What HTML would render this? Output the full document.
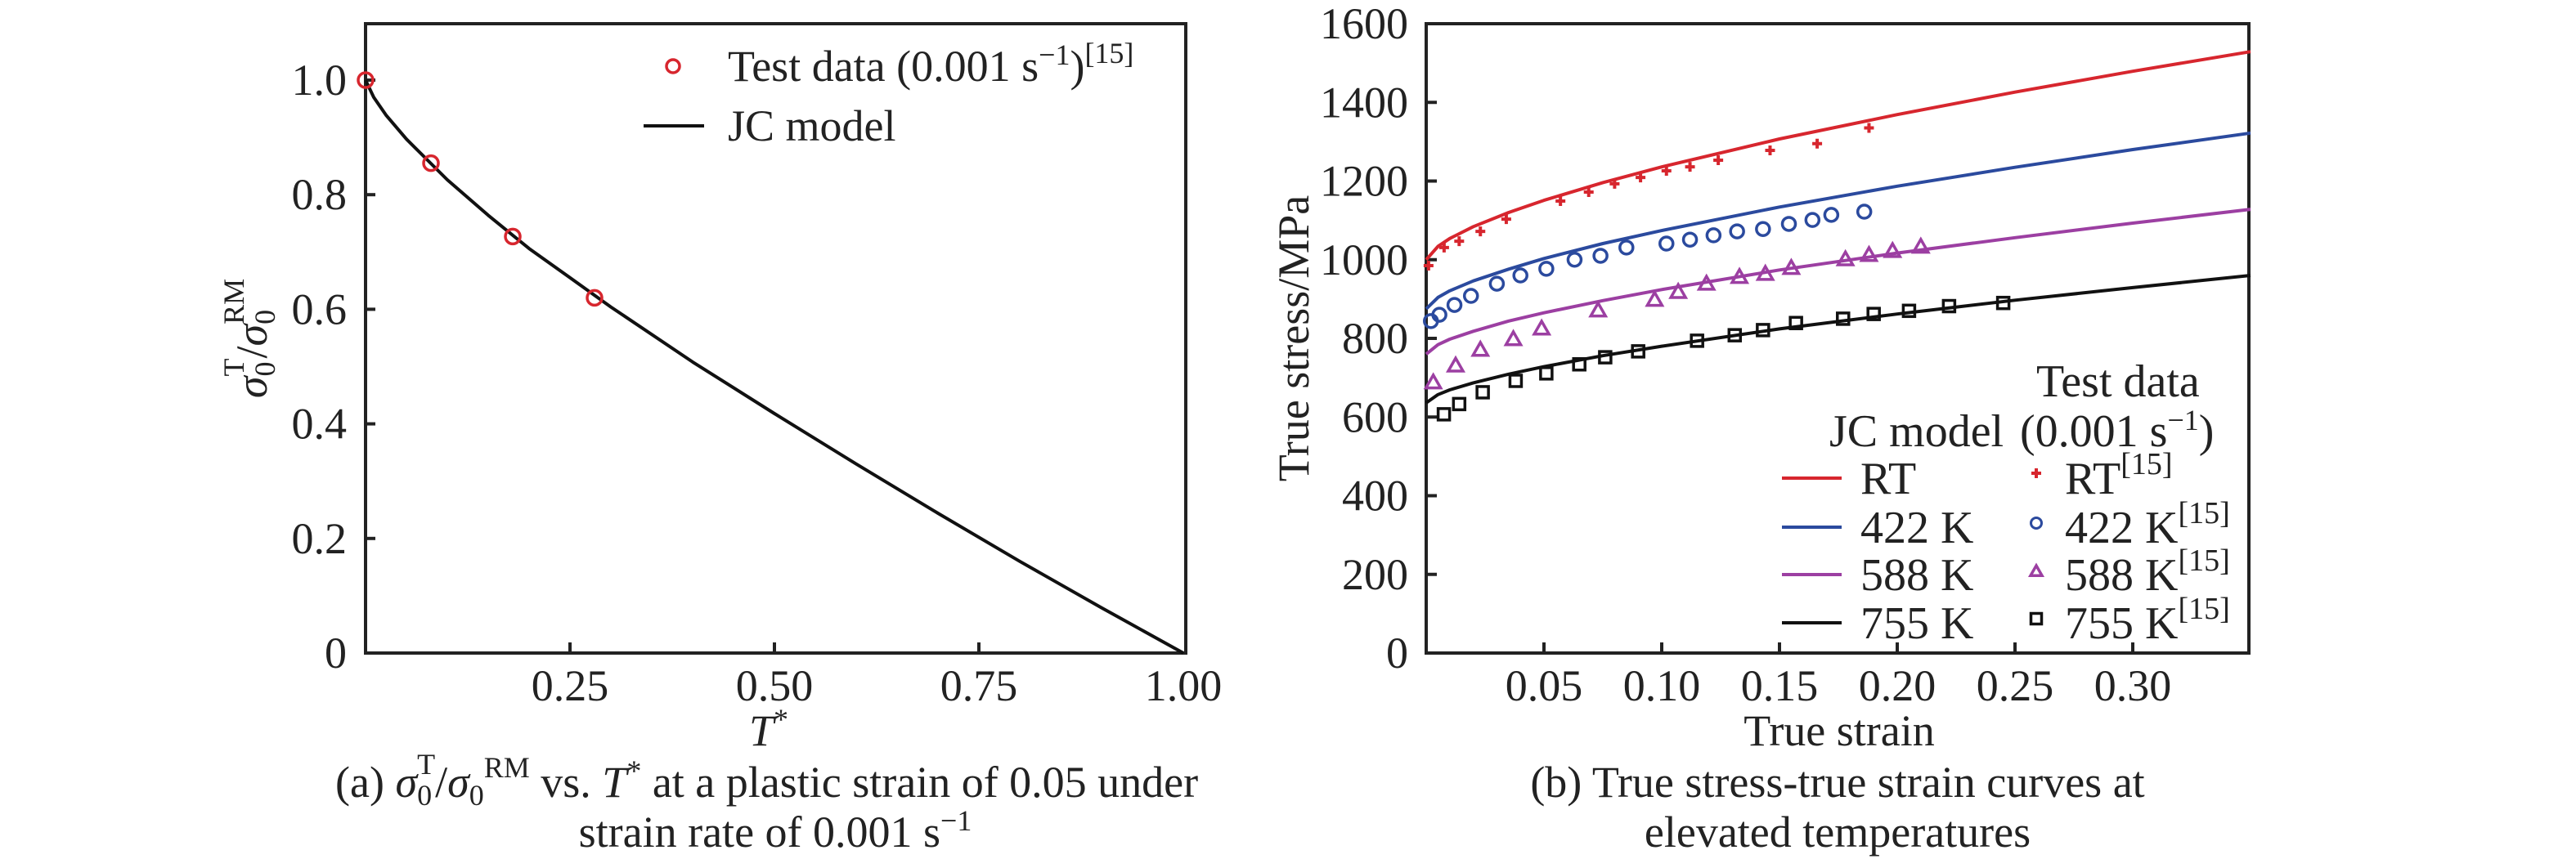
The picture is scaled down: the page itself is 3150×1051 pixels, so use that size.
<!DOCTYPE html>
<html><head><meta charset="utf-8"><style>
html,body{margin:0;padding:0;background:#fff;}
svg{display:block;font-family:"Liberation Serif","DejaVu Serif",serif;}
</style></head>
<body>
<svg id="fig" width="3150" height="1051" viewBox="0 0 3150 1051" xmlns="http://www.w3.org/2000/svg">
<g id="left"></g>
<g id="right"></g>
</svg>
<script>
// ---- Left chart data ----
const leftXTicks = [0.25, 0.50, 0.75, 1.00];
const leftXTickLabels = ["0.25", "0.50", "0.75", "1.00"];
const leftYTicks = [0, 0.2, 0.4, 0.6, 0.8, 1.0];
const leftYTickLabels = ["0", "0.2", "0.4", "0.6", "0.8", "1.0"];
const testT = [0, 0.08, 0.18, 0.28];
const testRatio = [1.0, 0.855, 0.727, 0.62];
const jcT = [0, 0.01, 0.025, 0.05, 0.1, 0.15, 0.2, 0.25, 0.3, 0.4, 0.5, 0.6, 0.7, 0.8, 0.9, 1.0];
const jcRatio = [1.0, 0.970, 0.939, 0.897, 0.826, 0.764, 0.706, 0.655, 0.604, 0.508, 0.418, 0.330, 0.244, 0.160, 0.079, 0.0];

// ---- Right chart data ----
const rightXTicks = [0.05, 0.10, 0.15, 0.20, 0.25, 0.30];
const rightXTickLabels = ["0.05", "0.10", "0.15", "0.20", "0.25", "0.30"];
const rightYTicks = [0, 200, 400, 600, 800, 1000, 1200, 1400, 1600];
const rightYTickLabels = ["0", "200", "400", "600", "800", "1000", "1200", "1400", "1600"];
const modelStrain = [0, 0.005, 0.01, 0.02, 0.035, 0.05, 0.075, 0.1, 0.15, 0.2, 0.25, 0.3, 0.35];
const modelRT = [1000, 1034, 1054, 1084, 1120, 1151, 1196, 1236, 1307, 1369, 1426, 1479, 1529];
const model422 = [875, 904, 921, 946, 976, 1003, 1041, 1074, 1134, 1187, 1235, 1280, 1322];
const model588 = [760, 784, 798, 818, 844, 865, 896, 924, 974, 1017, 1056, 1093, 1128];
const model755 = [636, 657, 669, 687, 709, 728, 756, 780, 824, 862, 897, 929, 960];
const rtStrain = [0.001, 0.0076, 0.014, 0.023, 0.034, 0.057, 0.069, 0.080, 0.091, 0.102, 0.112, 0.124, 0.146, 0.166, 0.188];
const rtStress = [985, 1031, 1047, 1072, 1103, 1149, 1172, 1193, 1209, 1226, 1236, 1253, 1278, 1295, 1335];
const k422Strain = [0.002, 0.0056, 0.012, 0.019, 0.030, 0.040, 0.051, 0.063, 0.074, 0.085, 0.102, 0.112, 0.122, 0.132, 0.143, 0.154, 0.164, 0.172, 0.186];
const k422Stress = [844, 860, 885, 908, 939, 960, 977, 1000, 1010, 1031, 1041, 1051, 1062, 1072, 1078, 1091, 1101, 1114, 1122];
const k588Strain = [0.003, 0.0125, 0.023, 0.037, 0.049, 0.073, 0.097, 0.107, 0.119, 0.133, 0.144, 0.155, 0.178, 0.188, 0.198, 0.210];
const k588Stress = [688, 731, 771, 798, 825, 871, 898, 918, 939, 956, 964, 979, 1001, 1012, 1022, 1033];
const k755Strain = [0.0075, 0.014, 0.024, 0.038, 0.051, 0.065, 0.076, 0.090, 0.115, 0.131, 0.143, 0.157, 0.177, 0.190, 0.205, 0.222, 0.245];
const k755Stress = [607, 633, 663, 692, 711, 734, 752, 767, 794, 808, 821, 839, 850, 862, 870, 882, 890];

const NS = "http://www.w3.org/2000/svg";
function mk(parent, tag, attrs, text) {
  const e = document.createElementNS(NS, tag);
  for (const k in attrs) e.setAttribute(k, attrs[k]);
  if (text !== undefined) e.textContent = text;
  parent.appendChild(e);
  return e;
}
const RED = "#d7262e", BLUE = "#2b4a9e", PURPLE = "#9c3fa2", BLACK = "#111";

// ===== Left chart =====
const L = document.getElementById("left");
const lx = v => 447 + v * 1000;
const ly = v => 799 - v * 701;
let e;
e = mk(L, "rect", {x: 447, y: 29, width: 1003, height: 770, fill: "none", stroke: "#222", "stroke-width": 4});


leftYTicks.forEach((t, i) => {
  const y = ly(t);
  let tk = mk(L, "line", {x1: 447, x2: 459, y1: y, y2: y, stroke: "#222", "stroke-width": 4});
  
  
  let lb = mk(L, "text", {x: 424, y: y + 18, "text-anchor": "end", "font-size": 54, fill: "#222"}, leftYTickLabels[i]);
  
  
});
leftXTicks.forEach((t, i) => {
  const x = lx(t);
  if (t < 1) {
    let tk = mk(L, "line", {x1: x, x2: x, y1: 799, y2: 786, stroke: "#222", "stroke-width": 4});
    
    
  }
  let lb = mk(L, "text", {x: x, y: 857, "text-anchor": "middle", "font-size": 54, fill: "#222"}, leftXTickLabels[i]);
  
  
});
e = mk(L, "path", {d: jcT.map((t, i) => (i ? "L" : "M") + lx(t).toFixed(1) + " " + ly(jcRatio[i]).toFixed(1)).join(" "), fill: "none", stroke: BLACK, "stroke-width": 4, "stroke-linejoin": "round"});


testT.forEach((t, i) => {
  let c = mk(L, "circle", {cx: lx(t), cy: ly(testRatio[i]), r: 9, fill: "none", stroke: RED, "stroke-width": 3.5});
  
  
});
// left legend
e = mk(L, "circle", {cx: 823, cy: 81, r: 8, fill: "none", stroke: RED, "stroke-width": 3.5});


e = mk(L, "text", {x: 890, y: 99, "font-size": 54, fill: "#222"});
e.innerHTML = 'Test data (0.001 s<tspan dy="-20" font-size="36">−1</tspan><tspan dy="20">)</tspan><tspan dy="-22" font-size="36">[15]</tspan>';


e = mk(L, "line", {x1: 787, x2: 861, y1: 154, y2: 154, stroke: BLACK, "stroke-width": 4});


e = mk(L, "text", {x: 890, y: 172, "font-size": 54, fill: "#222"}, "JC model");


// axis titles
e = mk(L, "text", {x: 0, y: 0, "font-size": 54, fill: "#222", "text-anchor": "middle", transform: "translate(326,414) rotate(-90)"});
e.innerHTML = '<tspan font-style="italic">σ</tspan><tspan dy="10" font-size="36">0</tspan><tspan dy="-38" dx="-18" font-size="36">T</tspan><tspan dy="28">/</tspan><tspan font-style="italic">σ</tspan><tspan dy="10" font-size="36">0</tspan><tspan dy="-38" dx="-18" font-size="36">RM</tspan>';


e = mk(L, "text", {x: 940, y: 912, "font-size": 54, fill: "#222", "text-anchor": "middle"});
e.innerHTML = '<tspan font-style="italic">T</tspan><tspan dy="-20" font-size="36">*</tspan>';


e = mk(L, "text", {x: 410, y: 975, "font-size": 54, fill: "#222"});
e.innerHTML = '(a) <tspan font-style="italic">σ</tspan><tspan dy="10" font-size="36">0</tspan><tspan dy="-38" dx="-18" font-size="36">T</tspan><tspan dy="28">/</tspan><tspan font-style="italic">σ</tspan><tspan dy="10" font-size="36">0</tspan><tspan dy="-34" font-size="36">RM</tspan><tspan dy="24"> vs. </tspan><tspan font-style="italic">T</tspan><tspan dy="-20" font-size="36">*</tspan><tspan dy="20"> at a plastic strain of 0.05 under</tspan>';


e = mk(L, "text", {x: 948, y: 1036, "font-size": 54, fill: "#222", "text-anchor": "middle"});
e.innerHTML = 'strain rate of 0.001 s<tspan dy="-20" font-size="36">−1</tspan>';



// ===== Right chart =====
const R = document.getElementById("right");
const rx = v => 1744 + v * 2880;
const ry = v => 799 - v * 0.48125;
e = mk(R, "rect", {x: 1744, y: 29, width: 1006, height: 770, fill: "none", stroke: "#222", "stroke-width": 4});


rightYTicks.forEach((t, i) => {
  const y = ry(t);
  if (t > 0 && t < 1600) {
    let tk = mk(R, "line", {x1: 1744, x2: 1757, y1: y, y2: y, stroke: "#222", "stroke-width": 4});
    
    
  }
  let lb = mk(R, "text", {x: 1722, y: y + 18, "text-anchor": "end", "font-size": 54, fill: "#222"}, rightYTickLabels[i]);
  
  
});
rightXTicks.forEach((t, i) => {
  const x = rx(t);
  let tk = mk(R, "line", {x1: x, x2: x, y1: 799, y2: 786, stroke: "#222", "stroke-width": 4});
  
  
  let lb = mk(R, "text", {x: x, y: 857, "text-anchor": "middle", "font-size": 54, fill: "#222"}, rightXTickLabels[i]);
  
  
});
const models = [[modelRT, RED, 'model-rt-curve'], [model422, BLUE, 'model-422k-curve'], [model588, PURPLE, 'model-588k-curve'], [model755, BLACK, 'model-755k-curve']];
models.forEach(m => {
  let p = mk(R, "path", {d: modelStrain.map((s, i) => (i ? "L" : "M") + rx(s).toFixed(1) + " " + ry(m[0][i]).toFixed(1)).join(" "), fill: "none", stroke: m[1], "stroke-width": 4, "stroke-linejoin": "round"});
  
  
});
function cross(g, x, y, s, col) {
  let p = mk(g, "path", {d: `M${x - s} ${y}H${x + s}M${x} ${y - s}V${y + s}`, stroke: col, "stroke-width": 4, fill: "none"});
  return p;
}
function tri(g, x, y, s, col) {
  return mk(g, "path", {d: `M${x} ${y - s}L${x + s} ${y + s * 0.75}L${x - s} ${y + s * 0.75}Z`, stroke: col, "stroke-width": 3.5, fill: "none"});
}
function sq(g, x, y, s, col) {
  return mk(g, "rect", {x: x - s, y: y - s, width: 2 * s, height: 2 * s, stroke: col, "stroke-width": 3.5, fill: "none"});
}
rtStrain.forEach((s, i) => {
  let p = cross(R, rx(s), ry(rtStress[i]), 6, RED);
  
  
});
k422Strain.forEach((s, i) => {
  let p = mk(R, "circle", {cx: rx(s), cy: ry(k422Stress[i]), r: 8, fill: "none", stroke: BLUE, "stroke-width": 3.5});
  
  
});
k588Strain.forEach((s, i) => {
  let p = tri(R, rx(s), ry(k588Stress[i]), 9, PURPLE);
  
  
});
k755Strain.forEach((s, i) => {
  let p = sq(R, rx(s), ry(k755Stress[i]), 7, BLACK);
  
  
});
// right legend
e = mk(R, "text", {x: 2490, y: 485, "font-size": 56, fill: "#222"}, "Test data");


e = mk(R, "text", {x: 2237, y: 546, "font-size": 56, fill: "#222"}, "JC model");


e = mk(R, "text", {x: 2470, y: 546, "font-size": 56, fill: "#222"});
e.innerHTML = '(0.001 s<tspan dy="-20" font-size="36">−1</tspan><tspan dy="20">)</tspan>';


const legRows = [["RT", RED, 585, 'cross'], ["422 K", BLUE, 645, 'circle'], ["588 K", PURPLE, 703, 'tri'], ["755 K", BLACK, 762, 'sq']];
legRows.forEach(r => {
  let ln = mk(R, "line", {x1: 2179, x2: 2252, y1: r[2], y2: r[2], stroke: r[1], "stroke-width": 4});
  
  
  let t1 = mk(R, "text", {x: 2275, y: r[2] + 19, "font-size": 56, fill: "#222"}, r[0]);
  
  
  let mkk;
  if (r[3] === 'cross') mkk = cross(R, 2490, r[2] - 6, 6, r[1]);
  else if (r[3] === 'circle') mkk = mk(R, "circle", {cx: 2490, cy: r[2] - 5, r: 6.5, fill: "none", stroke: r[1], "stroke-width": 3});
  else if (r[3] === 'tri') mkk = tri(R, 2490, r[2] - 4, 7, r[1]);
  else mkk = sq(R, 2490, r[2] - 5, 6.5, r[1]);
  
  
  let t2 = mk(R, "text", {x: 2525, y: r[2] + 19, "font-size": 56, fill: "#222"});
  t2.innerHTML = r[0] + '<tspan dy="-24" font-size="38">[15]</tspan>';
  
  
});
e = mk(R, "text", {x: 0, y: 0, "font-size": 54, fill: "#222", "text-anchor": "middle", transform: "translate(1600,414) rotate(-90)"}, "True stress/MPa");


e = mk(R, "text", {x: 2249, y: 912, "font-size": 54, fill: "#222", "text-anchor": "middle"}, "True strain");


e = mk(R, "text", {x: 2247, y: 975, "font-size": 54, fill: "#222", "text-anchor": "middle"}, "(b) True stress-true strain curves at");


e = mk(R, "text", {x: 2247, y: 1036, "font-size": 54, fill: "#222", "text-anchor": "middle"}, "elevated temperatures");


</script>
</body></html>
